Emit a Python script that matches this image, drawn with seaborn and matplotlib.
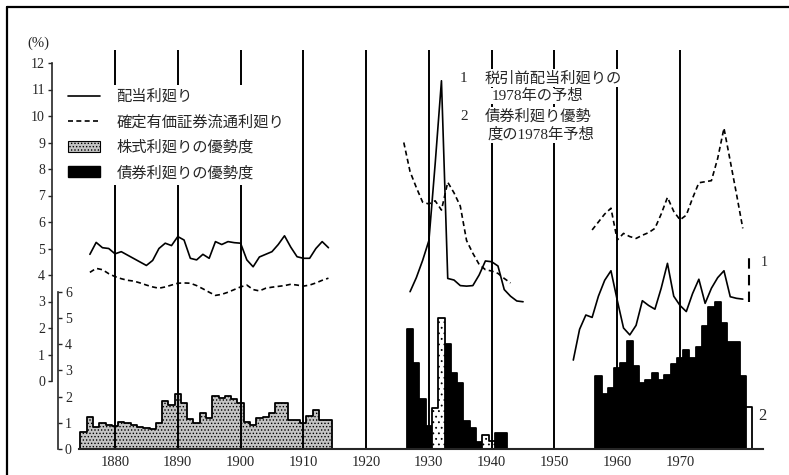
import numpy as np
import pandas as pd
import matplotlib
matplotlib.use("Agg")
import matplotlib.pyplot as plt
from matplotlib.lines import Line2D
from matplotlib.patches import Patch
import seaborn as sns

# ---------------- data ----------------
# dividend yield (solid line), %
div_years_1 = list(range(1876, 1915))
div_1 = [4.78, 5.23, 5.03, 5.0, 4.8, 4.88, 4.75, 4.62, 4.49, 4.36, 4.55, 5.0, 5.2, 5.11,
         5.45, 5.32, 4.63, 4.57, 4.78, 4.63, 5.26, 5.15, 5.26, 5.22, 5.2, 4.57, 4.31, 4.68,
         4.78, 4.88, 5.15, 5.48, 5.05, 4.69, 4.63, 4.63, 5.0, 5.26, 5.03]
div_years_2 = list(range(1927, 1946))
div_2 = [3.37, 3.9, 4.55, 5.3, 8.2, 11.33, 3.87, 3.81, 3.6, 3.58, 3.6, 4.0, 4.53, 4.5,
         4.34, 3.45, 3.2, 3.02, 2.99]
div_years_3 = list(range(1953, 1981))
div_3 = [0.79, 1.95, 2.49, 2.4, 3.2, 3.8, 4.16, 3.05, 2.0, 1.74, 2.1, 3.03, 2.85, 2.71,
         3.5, 4.44, 3.2, 2.85, 2.62, 3.3, 3.84, 2.93, 3.5, 3.9, 4.16, 3.18, 3.12, 3.09]

# fixed-interest security yield (dashed line), %
bond_years_1 = list(range(1876, 1915))
bond_1 = [4.1, 4.25, 4.2, 4.05, 3.94, 3.86, 3.8, 3.77, 3.7, 3.62, 3.55, 3.5, 3.55, 3.62,
          3.69, 3.7, 3.69, 3.6, 3.48, 3.35, 3.23, 3.27, 3.35, 3.45, 3.55, 3.62, 3.45, 3.4,
          3.5, 3.54, 3.57, 3.6, 3.65, 3.62, 3.58, 3.62, 3.7, 3.8, 3.88]
bond_years_2 = list(range(1926, 1944))
bond_2 = [9.0, 7.9, 7.3, 6.75, 6.68, 6.8, 6.45, 7.5, 7.1, 6.6, 5.3, 4.82, 4.4, 4.2,
          4.15, 4.06, 3.87, 3.7]
bond_years_3 = list(range(1956, 1981))
bond_3 = [5.7, 6.0, 6.3, 6.52, 5.32, 5.57, 5.45, 5.38, 5.5, 5.6, 5.76, 6.3, 6.93, 6.4,
          6.08, 6.26, 6.9, 7.48, 7.52, 7.56, 8.4, 9.54, 8.3, 7.05, 5.76]

# superiority of stock yield / bond yield (bars, right scale)
stock_years_1 = list(range(1875, 1915))
stock_1 = [0.64, 1.23, 0.83, 1.0, 0.9, 0.88, 1.03, 1.0, 0.9, 0.85, 0.8, 0.76, 1.0, 1.82,
           1.68, 2.1, 1.75, 1.15, 0.98, 1.38, 1.2, 2.04, 1.94, 2.02, 1.92, 1.75, 1.03, 0.9,
           1.2, 1.22, 1.38, 1.77, 1.77, 1.1, 1.12, 1.0, 1.28, 1.48, 1.1, 1.1]
years_2 = list(range(1927, 1943))
bond_sup_2 = [4.57, 3.29, 1.91, 0.88, 0, 0, 4.0, 2.91, 2.53, 1.08, 0.79, 0.28, 0, 0, 0.62, 0.62]
stock_sup_2 = [0, 0, 0, 0, 1.58, 4.99, 0, 0, 0, 0, 0, 0, 0.53, 0.32, 0, 0]
bond_sup_years_3 = list(range(1957, 1981))
bond_sup_3 = [2.8, 2.09, 2.34, 3.08, 3.27, 4.13, 3.18, 2.51, 2.63, 2.89, 2.63, 2.82, 3.23,
              3.46, 3.78, 3.49, 3.91, 4.71, 5.43, 5.6, 4.82, 4.1, 4.1, 2.79]

# 1978 forecasts
forecast_year = 1981
forecast_div_range = [3.0, 4.72]
forecast_bond_sup = [1.59]

decades = list(range(1880, 1980, 10))
left_ticks = list(range(0, 13))
right_ticks = list(range(0, 7))
legend_labels = ["配当利廻り", "確定有価証券流通利廻り", "株式利廻りの優勢度", "債券利廻りの優勢度"]
note_lines = ["税引前配当利廻りの", "1978年の予想", "債券利廻り優勢", "度の1978年予想"]

# ---------------- style ----------------
sns.set_style("white")
plt.rcParams["font.family"] = ["Liberation Serif", "Noto Sans CJK JP"]
plt.rcParams["hatch.linewidth"] = 0.6

W, H = 789, 475
fig = plt.figure(figsize=(W / 100, H / 100), dpi=100)


def fx(x):
    return x / W


def fy(y):
    return 1 - y / H


ax = fig.add_axes([fx(52), fy(449), fx(763.3) - fx(52), fy(50) - fy(449)])
ax2 = ax.twinx()
ax.set_zorder(2)
ax2.set_zorder(1)
ax.patch.set_visible(False)

STOCK_FC = "#c4c4c4"


def step_bars(years, vals, fc, hatch=None, lw=1.3):
    sns.histplot(x=years, weights=vals, discrete=True, element="step", fill=True,
                 ax=ax2, facecolor=fc, edgecolor="black", linewidth=lw,
                 hatch=hatch, alpha=1)


step_bars(stock_years_1, stock_1, STOCK_FC, hatch=".....")
step_bars(years_2, bond_sup_2, "black")
step_bars(years_2, stock_sup_2, "white", hatch="...")
step_bars(bond_sup_years_3, bond_sup_3, "black")
step_bars([forecast_year], forecast_bond_sup, "white")

for yrs, vals in [(div_years_1, div_1), (div_years_2, div_2), (div_years_3, div_3)]:
    sns.lineplot(x=yrs, y=vals, ax=ax, color="black", linewidth=1.2,
                 estimator=None, sort=False)
for yrs, vals in [(bond_years_1, bond_1), (bond_years_2, bond_2), (bond_years_3, bond_3)]:
    sns.lineplot(x=yrs, y=vals, ax=ax, color="black", linewidth=1.2,
                 linestyle=(0, (3, 2)), estimator=None, sort=False)

ax.vlines(forecast_year, forecast_div_range[0], forecast_div_range[1],
          colors="black", linestyles=(0, (5, 3)), linewidth=1.5)

# ---------------- axes ----------------
xmin = 1880 + (52 - 115) / 6.278
xmax = 1880 + (763.3 - 115) / 6.278
ax.set_xlim(xmin, xmax)
ax.set_ylim((381 - 449) / 26.5, (381 - 50) / 26.5)
ax2.set_ylim(0, (449 - 50) / 26.17)

ax.set_xlabel("")
ax.set_ylabel("")
ax2.set_xlabel("")
ax2.set_ylabel("")

ax.set_xticks(decades)
ax.set_xticklabels([str(d) for d in decades])
ax.grid(True, axis="x", color="black", linewidth=1.4)
ax.grid(False, axis="y")
ax.tick_params(axis="x", length=0, pad=5, labelsize=10.5)

ax.set_yticks(left_ticks)
ax.tick_params(axis="y", direction="out", length=3, width=1, pad=2, labelsize=10)
ax2.set_yticks(right_ticks)
ax2.tick_params(axis="y", direction="out", length=3, width=1, pad=2, labelsize=10)

for s in ["top", "right"]:
    ax.spines[s].set_visible(False)
ax.spines["left"].set_bounds(0, 12)
ax.spines["left"].set_linewidth(1.2)
ax.spines["bottom"].set_bounds(1874.2, xmax)
ax.spines["bottom"].set_linewidth(1.5)
for s in ["left", "top", "bottom"]:
    ax2.spines[s].set_visible(False)
ax2.spines["right"].set_position(("axes", 6 / 711.3))
ax2.spines["right"].set_bounds(0, 6)
ax2.spines["right"].set_linewidth(1.2)

# ---------------- legend ----------------
handles = [Line2D([], [], color="black", lw=1.2),
           Line2D([], [], color="black", lw=1.2, linestyle=(0, (3, 2))),
           Patch(facecolor=STOCK_FC, edgecolor="black", hatch=".....", lw=0.8),
           Patch(facecolor="black", edgecolor="black")]
fig.legend(handles, legend_labels, loc="upper left", bbox_to_anchor=(fx(63), fy(85)),
           frameon=True, fancybox=False, edgecolor="none", facecolor="white",
           framealpha=1, fontsize=11, handlelength=2.1, handletextpad=1.1,
           labelspacing=0.72, borderpad=0.3, borderaxespad=0)

box = dict(facecolor="white", edgecolor="none", pad=1)
fig.text(fx(460), fy(78), "1", ha="left", va="center", fontsize=11, bbox=box)
fig.text(fx(485), fy(78), note_lines[0], ha="left", va="center", fontsize=11, bbox=box)
fig.text(fx(492), fy(96), note_lines[1], ha="left", va="center", fontsize=11, bbox=box)
fig.text(fx(460), fy(116), "2", ha="left", va="center", fontsize=11, bbox=box)
fig.text(fx(485), fy(116), note_lines[2], ha="left", va="center", fontsize=11, bbox=box)
fig.text(fx(487), fy(134), note_lines[3], ha="left", va="center", fontsize=11, bbox=box)

fig.text(fx(27), fy(43), "(%)", ha="left", va="center", fontsize=10.5)
fig.text(fx(761), fy(262), "1", ha="left", va="center", fontsize=10)
fig.text(fx(758), fy(416), "2", ha="left", va="center", fontsize=12)

# scan frame (top and left edges)
fig.add_artist(Line2D([fx(7), 1], [fy(7), fy(7)], transform=fig.transFigure,
                      color="black", lw=1.6))
fig.add_artist(Line2D([fx(7), fx(7)], [0, fy(7)], transform=fig.transFigure,
                      color="black", lw=1.6))

fig.savefig("out.png", dpi=100)
